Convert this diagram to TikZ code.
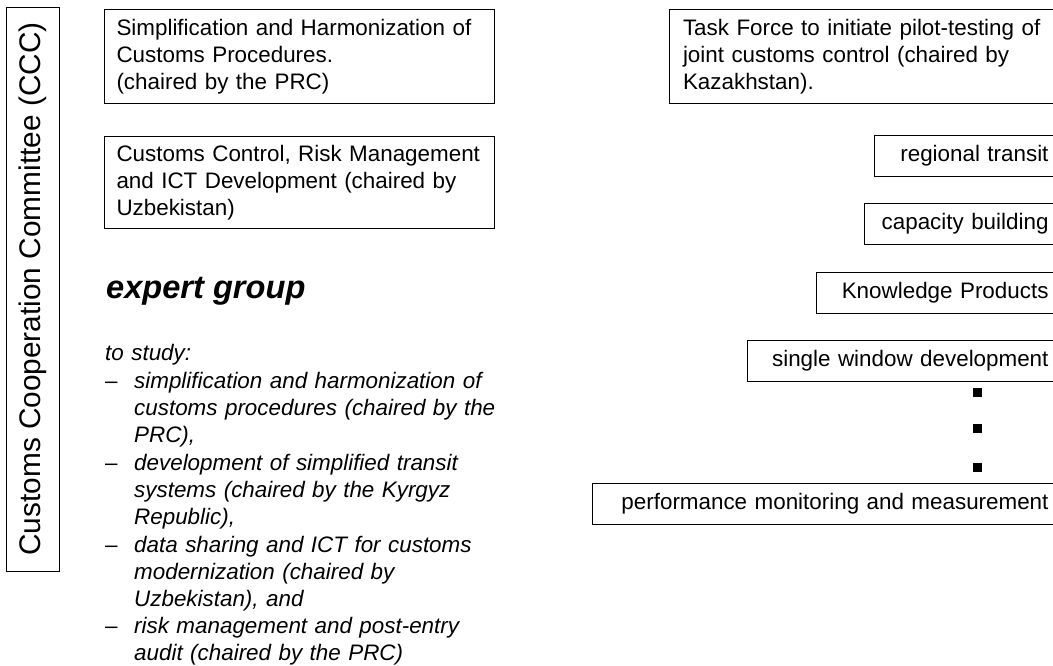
\documentclass[tikz,border=0pt]{standalone}
\usepackage{fontspec}
\setmainfont{Liberation Sans}
\begin{document}
\begin{tikzpicture}[x=1pt,y=-1pt,
  boxfont/.style={font=\fontsize{22.4}{27}\selectfont},
  lbox/.style={draw=black, line width=1pt, boxfont, anchor=north west, inner xsep=12pt, inner ysep=0pt, align=left},
  rline/.style={draw=black, line width=1pt, boxfont, anchor=north west, inner xsep=10pt, inner ysep=0pt, align=right, minimum height=41pt},
  itm/.style={font=\fontsize{22.4}{27.2}\selectfont\itshape, inner sep=0pt, align=left, anchor=north west, text width=380pt},
  dashitem/.style={font=\fontsize{22.4}{27.2}\selectfont, inner sep=0pt, anchor=base west},
  dot/.style={fill=black, draw=none, minimum size=9pt, inner sep=0pt}
]
\useasboundingbox (0,0) rectangle (1053,665);
% vertical title
\node[draw=black, line width=1pt, rotate=90, minimum width=564pt, minimum height=53pt, inner sep=0pt,
      font=\fontsize{29.8}{36}\selectfont] (ccc) at (32.5,289) {Customs Cooperation Committee (CCC)};
% left boxes
\node[lbox, text width=366pt, minimum height=94pt] (b1) at (104,9)
  {Simplification and Harmonization of\\Customs Procedures.\\(chaired by the PRC)};
\node[lbox, text width=366pt, minimum height=92pt] (b2) at (104,136)
  {Customs Control, Risk Management\\and ICT Development (chaired by\\Uzbekistan)};
% expert group
\node[inner sep=0pt, anchor=base west, font=\fontsize{32.6}{38}\selectfont\bfseries\itshape] (eg) at (106,298) {expert group};
\node[itm] (ts) at (105,342) {\rule{0pt}{18pt}to study:};
\node[dashitem] (d1) at (105,388) {--};
\node[itm] (i1) at (134,370) {\rule{0pt}{18pt}simplification and harmonization of\\customs procedures (chaired by the\\PRC),};
\node[dashitem] (d2) at (105,470) {--};
\node[itm] (i2) at (134,452) {\rule{0pt}{18pt}development of simplified transit\\systems (chaired by the Kyrgyz\\Republic),};
\node[dashitem] (d3) at (105,552) {--};
\node[itm] (i3) at (134,534) {\rule{0pt}{18pt}data sharing and ICT for customs\\modernization (chaired by\\Uzbekistan), and};
\node[dashitem] (d4) at (105,633) {--};
\node[itm] (i4) at (134,615) {\rule{0pt}{18pt}risk management and post-entry\\audit (chaired by the PRC)};
% right side
\node[draw=black, line width=1pt, boxfont, anchor=north west, inner xsep=13.5pt, inner ysep=0pt, align=left,
      text width=390pt, minimum height=94pt] (tf) at (669,9)
  {Task Force to initiate pilot-testing of\\joint customs control (chaired by\\Kazakhstan).};
\node[rline, text width=1048pt-874pt-10pt] (rt) at (874,135) {regional transit};
\node[rline, text width=1048pt-864pt-10pt] (cb) at (864,203) {capacity building};
\node[rline, text width=1048pt-816pt-10pt] (kp) at (816,272) {Knowledge Products};
\node[rline, text width=1048pt-747pt-10pt] (sw) at (747,340) {single window development};
\node[dot] (s1) at (977,392) {};
\node[dot] (s2) at (977,428) {};
\node[dot] (s3) at (977,467) {};
\node[rline, text width=1048pt-592pt-10pt] (pm) at (592,483) {performance monitoring and measurement};
\end{tikzpicture}
\end{document}
